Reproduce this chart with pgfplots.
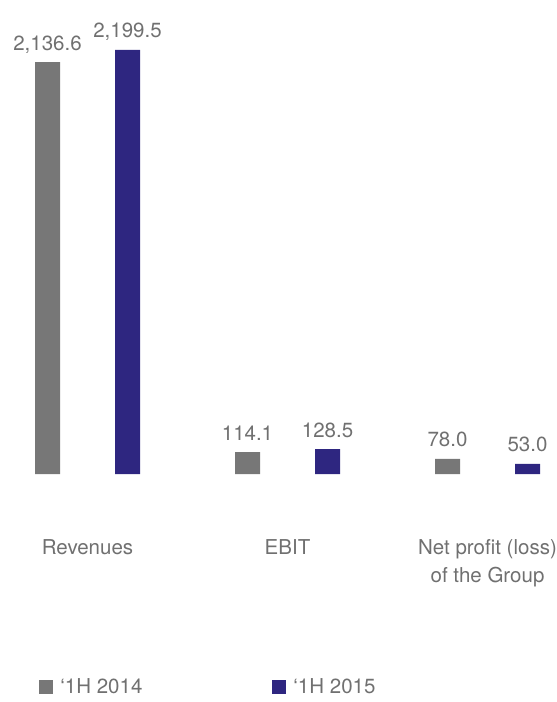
\documentclass[border=0pt]{standalone}
\usepackage{pgfplots}
\pgfplotsset{compat=1.18}
\usepackage{fontspec}
\setmainfont{TeX Gyre Heros}
\definecolor{bargray}{HTML}{777777}
\definecolor{barnavy}{HTML}{2E2680}
\definecolor{txtgray}{HTML}{707070}
\begin{document}
\begin{tikzpicture}
\useasboundingbox (0,0) rectangle (557pt,702pt);
\begin{axis}[
  at={(0pt,228pt)}, anchor=south west,
  scale only axis, width=557pt, height=474pt,
  xmin=-0.4375, xmax=2.3475, ymin=0, ymax=2458.5,
  clip=false,
  axis line style={draw=none},
  major tick length=0pt,
  ytick=\empty,
  xtick={0,1,2},
  xticklabels={Revenues, EBIT, {Net profit (loss)\\of the Group}},
  xticklabel style={align=center, text=txtgray, font=\fontsize{20.5}{28}\selectfont, yshift=-62pt},
  ybar, bar width=25pt,
  nodes near coords,
  /pgf/number format/.cd, fixed, fixed zerofill, precision=1, 1000 sep={,}, assume math mode=true,
  /pgfplots/.cd,
  every node near coord/.append style={font=\fontsize{20.5}{24}\selectfont, text=txtgray, anchor=base, inner sep=0pt, yshift=12pt},
  legend columns=2,
  legend style={draw=none, fill=none, at={(0.065,-0.449)}, anchor=west, font=\fontsize{20.5}{24}\selectfont, text=txtgray,
    /tikz/every odd column/.append style={column sep=5pt},
    /tikz/every even column/.append style={column sep=128pt}},
  legend image code/.code={\fill[#1] (0pt,-7pt) rectangle (14pt,7pt);},
]
\addplot[fill=bargray, draw=none, bar shift=-40pt] coordinates {(0,2136.6) (1,114.1) (2,78.0)};
\addplot[fill=barnavy, draw=none, bar shift=40pt] coordinates {(0,2199.5) (1,128.5) (2,53.0)};
\legend{\textquoteleft 1H 2014, \textquoteleft 1H 2015}
\end{axis}
\end{tikzpicture}
\end{document}
